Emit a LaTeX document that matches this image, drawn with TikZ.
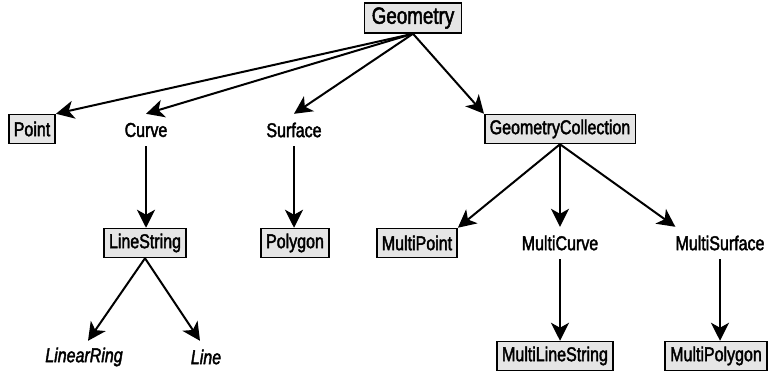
\documentclass[tikz,border=0pt]{standalone}
\usepackage{fontspec}
\newfontfamily\diagfont[FakeStretch=0.8,FakeBold=2]{Liberation Sans}
\usetikzlibrary{arrows.meta}
\definecolor{boxgray}{gray}{0.9}

\begin{document}
\begin{tikzpicture}
[
	x=1pt,y=-1pt,
	box/.style={draw,line width=1.5pt,fill=boxgray,minimum height=29pt,inner xsep=5pt,inner ysep=0pt,font=\diagfont\fontsize{20}{22}\selectfont},
	txt/.style={minimum height=32pt,inner sep=0pt,font=\diagfont\fontsize{20}{22}\selectfont},
	link/.style={-{Stealth[length=18pt,width=18pt,inset=5pt]},line width=2pt}
]
	\useasboundingbox (0,0) rectangle (770,372);

	% root
	\node[box,minimum height=30pt,inner xsep=7pt,font=\diagfont\fontsize{23.5}{25}\selectfont] (geom) at (413,18) {Geometry};

	% second row
	\node[box] (point) at (32,129) {Point};
	\node[txt] (curve) at (146,130) {Curve};
	\node[txt] (surface) at (294,130) {Surface};
	\node[box] (geomcoll) at (560,129) {GeometryCollection};

	% third row
	\node[box] (linestr) at (145,243) {LineString};
	\node[box] (polygon) at (295,243) {Polygon};
	\node[box] (mpoint) at (417,243) {MultiPoint};
	\node[txt] (mcurve) at (560,243) {MultiCurve};
	\node[txt] (msurface) at (720,243) {MultiSurface};

	% bottom row
	\node[txt,font=\diagfont\itshape\fontsize{20}{22}\selectfont] (linring) at (84,357) {LinearRing};
	\node[txt,font=\diagfont\itshape\fontsize{20}{22}\selectfont] (line) at (206,357) {Line};
	\node[box] (mlinestr) at (555,356) {MultiLineString};
	\node[box] (mpolygon) at (716,356) {MultiPolygon};

	% connectors
	\draw[link] (geom.south) -- (point.north east);
	\draw[link] (geom.south) -- (curve.north);
	\draw[link] (geom.south) -- (surface.north);
	\draw[link] (geom.south) -- (geomcoll.north west);

	\draw[link] (curve.south) -- (curve.south |- linestr.north);
	\draw[link] (surface.south) -- (surface.south |- polygon.north);

	\draw[link] (linestr.south) -- ([xshift=4pt]linring.north);
	\draw[link] (linestr.south) -- ([xshift=-6pt]line.north);

	\draw[link] (geomcoll.south) -- (mpoint.north east);
	\draw[link] (geomcoll.south) -- (mcurve.north);
	\draw[link] (geomcoll.south) -- (msurface.north west);

	\draw[link] (mcurve.south) -- (mcurve.south |- mlinestr.north);
	\draw[link] (msurface.south) -- (msurface.south |- mpolygon.north);

\end{tikzpicture}
\end{document}
